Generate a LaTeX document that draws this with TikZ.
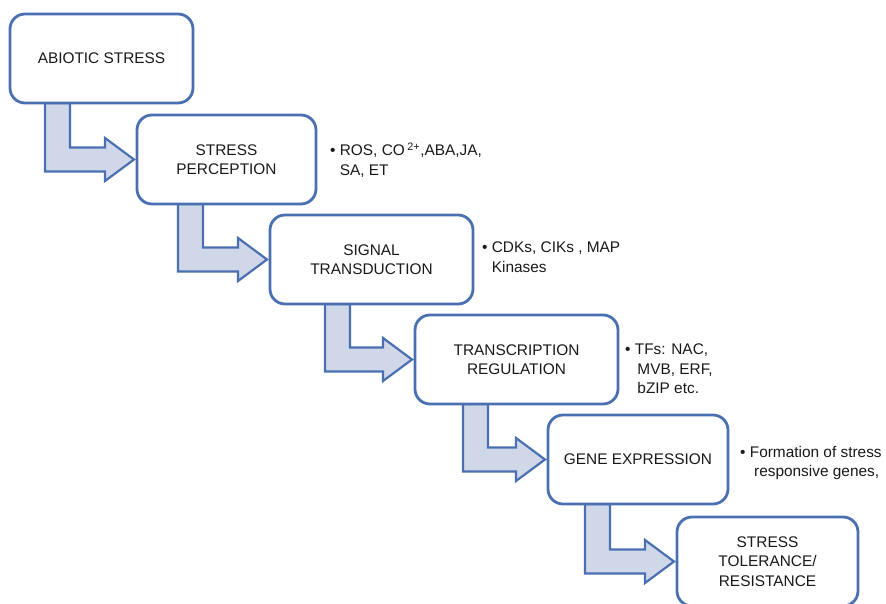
\documentclass[tikz,border=0pt]{standalone}
\usepackage{fontspec}
\setmainfont{Liberation Sans}
\usepackage{tikz}
\usetikzlibrary{positioning, calc, backgrounds}
\definecolor{stepblue}{RGB}{74,112,178}
\definecolor{stepfill}{RGB}{207,215,233}
\definecolor{inktext}{RGB}{25,25,25}

\begin{document}
\begin{tikzpicture}[
        x=1pt, y=-1pt,
        box/.style={rectangle, draw=stepblue, line width=2.8pt, rounded corners=15pt,
                    fill=white, minimum height=89pt, outer sep=0pt, align=center,
                    text=inktext, font=\fontsize{15.4}{19.5}\selectfont},
        note/.style={inner sep=0pt, align=left, text=inktext,
                     font=\fontsize{15.4}{19.5}\selectfont},
        larrow/.style={draw=stepblue, line width=2.2pt, fill=stepfill, line join=miter}
      ]
        \useasboundingbox (0,0) rectangle (886,604);

        \node[box, minimum width=183pt] (abiotic) at (101.5,58.5) {ABIOTIC STRESS};
        \node[box, minimum width=179pt] (percept) at (226.5,159.5) {STRESS\\PERCEPTION};
        \node[box, minimum width=203pt] (signal) at (371.5,259.5) {SIGNAL\\TRANSDUCTION};
        \node[box, minimum width=203pt] (transcr) at (516.5,359.5) {TRANSCRIPTION\\REGULATION};
        \node[box, minimum width=180pt] (gene) at (638,459.5) {GENE EXPRESSION};
        \node[box, minimum width=181pt] (toler) at (767.5,561.5) {STRESS\\TOLERANCE/\\RESISTANCE};

        % notes beside the boxes
        \node[note, below right=28pt and 14pt of percept.north east] (perceptnote)
              {\textbullet\ ROS, CO\,\textsuperscript{2+},ABA,JA,\\\phantom{\textbullet}\ SA, ET};
        \node[note, below right=27pt and 9pt of signal.north east] (signalnote)
              {\textbullet\ CDKs, CIKs , MAP\\\phantom{\textbullet}\ Kinases};
        \node[note, below right=29pt and 7pt of transcr.north east] (transcrnote)
              {\textbullet\ TFs: NAC,\\\phantom{\textbullet}\ \,MVB, ERF,\\\phantom{\textbullet}\ \,bZIP etc.};
        \node[note, below right=31pt and 12pt of gene.north east] (genenote)
              {\textbullet\ Formation of stress\\\phantom{\textbullet}\ \ responsive genes,};

        % L-shaped arrows
        \begin{scope}[on background layer]
          \foreach \from/\to/\dx in {abiotic/percept/35, percept/signal/41, signal/transcr/55,
                                     transcr/gene/48, gene/toler/37}
            \draw[larrow] let \p1=(\from.south west), \p2=($(\to.west)+(-3,0)$) in
              (\x1+\dx pt,\y1) -- (\x1+\dx pt+25pt,\y1) -- (\x1+\dx pt+25pt,\y2+12pt)
              -- (\x2-29pt,\y2+12pt) -- (\x2-29pt,\y2+21.5pt) -- (\p2)
              -- (\x2-29pt,\y2-21.5pt) -- (\x2-29pt,\y2-12pt) -- (\x1+\dx pt,\y2-12pt) -- cycle;
        \end{scope}
      \end{tikzpicture}
\end{document}
